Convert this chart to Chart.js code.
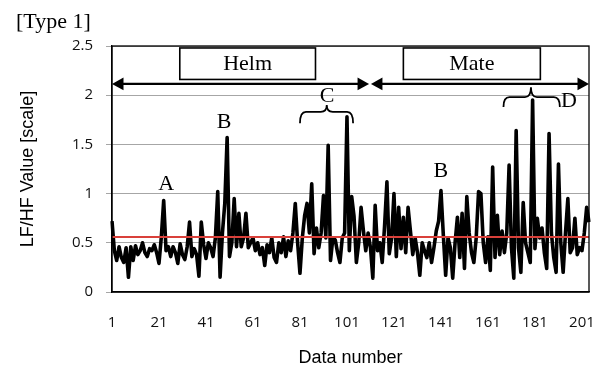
<!DOCTYPE html>
<html>
<head>
<meta charset="utf-8">
<script src="https://cdn.jsdelivr.net/npm/chart.js@4.4.1/dist/chart.umd.min.js"></script>
<style>
  html, body { margin: 0; padding: 0; background: #fff; }
  #wrap { width: 597px; height: 370px; }
</style>
</head>
<body>
<div id="wrap"><canvas id="lfhfChart" width="597" height="370"></canvas></div>
<script>
// LF/HF values, one per data number
const lfhfValues = [
  0.72,0.42,0.32,0.46,0.35,0.30,0.45,0.15,0.46,0.32,
  0.47,0.38,0.42,0.50,0.40,0.36,0.44,0.42,0.48,0.40,
  0.29,0.56,0.93,0.42,0.46,0.36,0.46,0.40,0.29,0.49,
  0.38,0.33,0.46,0.71,0.36,0.44,0.38,0.16,0.71,0.48,
  0.34,0.50,0.45,0.36,0.55,1.02,0.15,0.60,0.90,1.57,
  0.36,0.50,0.95,0.46,0.80,0.46,0.55,0.80,0.45,0.50,
  0.55,0.42,0.50,0.38,0.45,0.27,0.48,0.40,0.55,0.35,
  0.30,0.50,0.40,0.56,0.36,0.52,0.42,0.60,0.90,0.50,
  0.19,0.55,0.78,0.90,0.60,1.10,0.39,0.65,0.45,0.60,
  0.98,0.55,1.49,0.32,0.55,0.53,0.40,0.30,0.55,0.60,
  1.78,0.42,0.97,0.77,0.30,0.50,0.86,0.62,0.42,0.60,
  0.45,0.14,0.88,0.42,0.50,0.30,0.67,1.12,0.39,0.55,
  1.00,0.36,0.86,0.44,0.76,0.40,0.86,0.62,0.38,0.55,
  0.40,0.17,0.50,0.42,0.35,0.50,0.30,0.45,0.62,0.72,
  1.03,0.58,0.17,0.55,0.45,0.14,0.50,0.76,0.35,0.80,
  0.24,0.97,0.60,0.40,0.30,0.55,1.02,1.00,0.50,0.30,
  0.56,0.22,1.27,0.35,0.78,0.38,0.62,0.40,0.60,1.29,
  0.45,0.14,1.64,0.45,0.20,0.91,0.50,0.40,0.30,1.95,
  0.44,0.75,0.55,0.65,0.40,0.24,1.61,0.60,0.35,0.20,
  1.30,0.50,0.20,0.60,0.95,0.40,0.45,0.75,0.38,0.45,
  0.42,0.60,0.86,0.71
];
const dataNumbers = lfhfValues.map((v, i) => i + 1);
const referenceLevel = 0.56;
const referenceLine = lfhfValues.map(() => referenceLevel);
const xTickLabels = ['1','21','41','61','81','101','121','141','161','181','201'];
const yTickValues = [0, 0.5, 1, 1.5, 2, 2.5];

const serif = '"Liberation Serif", "Times New Roman", serif';

function drawBrace(ctx, x0, x1, xm, yEnd, yBar, yTip) {
  const r = 6;
  ctx.beginPath();
  ctx.moveTo(x0, yEnd);
  ctx.quadraticCurveTo(x0, yBar, x0 + r, yBar);
  ctx.lineTo(xm - r, yBar);
  ctx.quadraticCurveTo(xm, yBar, xm, yTip);
  ctx.quadraticCurveTo(xm, yBar, xm + r, yBar);
  ctx.lineTo(x1 - r, yBar);
  ctx.quadraticCurveTo(x1, yBar, x1, yEnd);
  ctx.stroke();
}

function drawArrow(ctx, xa, xb, y) {
  const len = 11.5, half = 6.3;
  ctx.beginPath();
  ctx.moveTo(xa + len - 1, y);
  ctx.lineTo(xb - len + 1, y);
  ctx.stroke();
  ctx.beginPath();
  ctx.moveTo(xa, y); ctx.lineTo(xa + len, y - half); ctx.lineTo(xa + len, y + half); ctx.closePath();
  ctx.fill();
  ctx.beginPath();
  ctx.moveTo(xb, y); ctx.lineTo(xb - len, y - half); ctx.lineTo(xb - len, y + half); ctx.closePath();
  ctx.fill();
}

const notesPlugin = {
  id: 'notes',
  afterDraw(chart) {
    const {ctx, chartArea: a, scales: {x, y}} = chart;
    ctx.save();
    ctx.strokeStyle = '#000';
    ctx.fillStyle = '#000';
    ctx.lineWidth = 1.3;
    ctx.strokeRect(a.left, a.top, a.right - a.left, a.bottom - a.top);

    ctx.font = '22px ' + serif;
    ctx.textBaseline = 'middle';
    ctx.textAlign = 'left';
    ctx.fillText('[Type 1]', 16, 22);

    // phase boxes
    ctx.lineWidth = 1.6;
    const boxes = [['Helm', 28.85, 86.6], ['Mate', 124.0, 182.3]];
    boxes.forEach(([label, i0, i1]) => {
      const x0 = x.getPixelForValue(i0), x1 = x.getPixelForValue(i1);
      const y0 = y.getPixelForValue(2.48), y1 = y.getPixelForValue(2.16);
      ctx.fillStyle = '#fff';
      ctx.fillRect(x0, y0, x1 - x0, y1 - y0);
      ctx.strokeRect(x0, y0, x1 - x0, y1 - y0);
      ctx.fillStyle = '#000';
      ctx.textAlign = 'center';
      ctx.fillText(label, (x0 + x1) / 2, (y0 + y1) / 2 + 1);
    });

    // arrows
    ctx.lineWidth = 2.2;
    const ya = y.getPixelForValue(2.115);
    drawArrow(ctx, x.getPixelForValue(0), x.getPixelForValue(109.4), ya);
    drawArrow(ctx, x.getPixelForValue(110.2), x.getPixelForValue(203), ya);

    // letters
    const letters = [['A', 23.1, 1.10], ['B', 47.7, 1.73], ['C', 91.5, 1.99], ['B', 139.9, 1.23], ['D', 194.5, 1.94]];
    ctx.textAlign = 'center';
    letters.forEach(([t, i, v]) => ctx.fillText(t, x.getPixelForValue(i), y.getPixelForValue(v)));

    // braces
    ctx.lineWidth = 1.8;
    drawBrace(ctx, x.getPixelForValue(80.0), x.getPixelForValue(102.6), x.getPixelForValue(91.4),
      y.getPixelForValue(1.715), y.getPixelForValue(1.83), y.getPixelForValue(1.90));
    drawBrace(ctx, x.getPixelForValue(166.6), x.getPixelForValue(190.6), x.getPixelForValue(178.3),
      y.getPixelForValue(1.88), y.getPixelForValue(1.98), y.getPixelForValue(2.08));
    ctx.restore();
  }
};

new Chart(document.getElementById('lfhfChart'), {
  type: 'line',
  data: {
    labels: dataNumbers,
    datasets: [
      { label: 'reference', data: referenceLine, borderColor: '#d9403a', borderWidth: 2, pointRadius: 0, order: 0 },
      { label: 'LF/HF', data: lfhfValues, borderColor: '#000', borderWidth: 3.6, pointRadius: 0, tension: 0, borderJoinStyle: 'round', order: 1 }
    ]
  },
  options: {
    responsive: false,
    devicePixelRatio: 1,
    animation: false,
    layout: { padding: { left: 0, right: 8, top: 46, bottom: 0 } },
    plugins: { legend: { display: false }, tooltip: { enabled: false } },
    scales: {
      x: {
        afterFit: s => { s.height = 78; s.paddingLeft = 0; s.paddingRight = 0; },
        grid: { display: false, drawTicks: false },
        border: { color: '#000', width: 1.3 },
        ticks: {
          autoSkip: false, maxRotation: 0, padding: 22, color: '#111',
          font: { family: '"Open Sans", sans-serif', size: 15 },
          callback: (v, i) => xTickLabels.includes(String(dataNumbers[i])) ? String(dataNumbers[i]) : ''
        },
        title: { display: true, text: 'Data number', color: '#000',
          font: { family: '"Liberation Sans", Arial, sans-serif', size: 18 }, padding: { top: 4, bottom: 1 } }
      },
      y: {
        min: 0, max: 2.5,
        afterFit: s => { s.width = 112; s.paddingTop = 0; s.paddingBottom = 0; },
        afterBuildTicks: s => { s.ticks = yTickValues.map(v => ({ value: v })); },
        grid: { color: '#a6a6a6', lineWidth: 1, tickLength: 6 },
        border: { color: '#000', width: 1.3 },
        ticks: { padding: 13, color: '#111', font: { family: '"Open Sans", sans-serif', size: 15 },
          callback: v => String(v) },
        title: { display: true, text: 'LF/HF Value [scale]', color: '#000',
          font: { family: '"Liberation Sans", Arial, sans-serif', size: 18 }, padding: { top: 17, bottom: 0 } }
      }
    }
  },
  plugins: [notesPlugin]
});
</script>
</body>
</html>
